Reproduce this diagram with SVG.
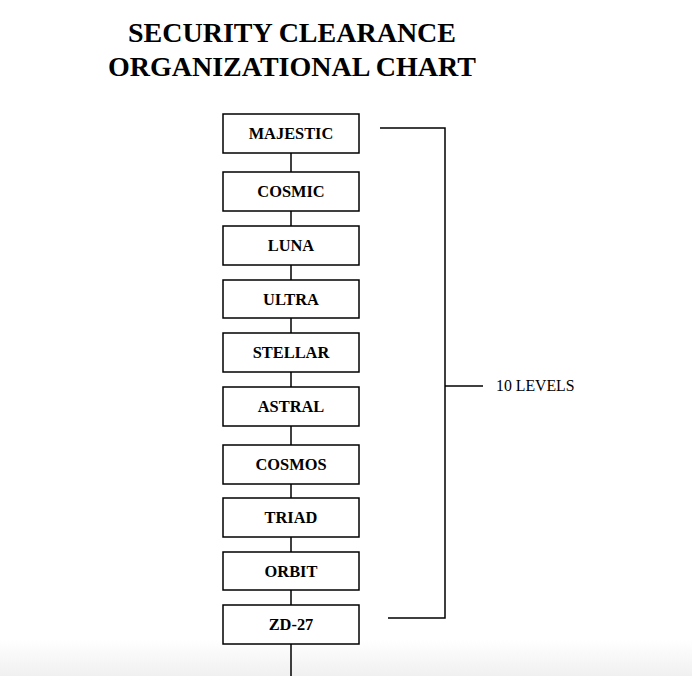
<svg xmlns="http://www.w3.org/2000/svg" width="692" height="676" viewBox="0 0 692 676">
<style>
.title{font-family:"Liberation Serif","Times New Roman",serif;font-weight:bold;font-size:28px;fill:#000;text-anchor:middle}
.box rect{fill:#fff;stroke:#000;stroke-width:1.5}
.box text{font-family:"Liberation Serif","Times New Roman",serif;font-weight:bold;font-size:16.4px;fill:#000;text-anchor:middle}
.lbl{font-family:"Liberation Serif","Times New Roman",serif;font-size:15.8px;fill:#000}
#connectors line,#connectors path{stroke:#000;stroke-width:1.5;fill:none}
</style>
<defs>
<linearGradient id="fade" x1="0" y1="0" x2="0" y2="1">
<stop offset="0" stop-color="#fff"/>
<stop offset="1" stop-color="#f0f0f0"/>
</linearGradient>
</defs>
<rect width="692" height="676" fill="#fff"/>
<rect x="0" y="640" width="692" height="36" fill="url(#fade)"/>
<text class="title" x="292" y="42">SECURITY CLEARANCE</text>
<text class="title" x="292" y="76">ORGANIZATIONAL CHART</text>
<g id="connectors">
<line x1="291" y1="153" x2="291" y2="172"/>
<line x1="291" y1="211" x2="291" y2="226"/>
<line x1="291" y1="265" x2="291" y2="280"/>
<line x1="291" y1="318" x2="291" y2="333"/>
<line x1="291" y1="372" x2="291" y2="387"/>
<line x1="291" y1="426" x2="291" y2="445"/>
<line x1="291" y1="484" x2="291" y2="498"/>
<line x1="291" y1="537" x2="291" y2="552"/>
<line x1="291" y1="590" x2="291" y2="605"/>
<line x1="291" y1="644" x2="291" y2="676"/>
<path d="M380 128 H445 V618 H388"/>
<line x1="445" y1="386" x2="483" y2="386"/>
</g>
<g id="majestic" class="box"><rect x="223" y="114" width="136" height="39"/><text x="291" y="139">MAJESTIC</text></g>
<g id="cosmic" class="box"><rect x="223" y="172" width="136" height="39"/><text x="291" y="197">COSMIC</text></g>
<g id="luna" class="box"><rect x="223" y="226" width="136" height="39"/><text x="291" y="251">LUNA</text></g>
<g id="ultra" class="box"><rect x="223" y="280" width="136" height="38"/><text x="291" y="305">ULTRA</text></g>
<g id="stellar" class="box"><rect x="223" y="333" width="136" height="39"/><text x="291" y="358">STELLAR</text></g>
<g id="astral" class="box"><rect x="223" y="387" width="136" height="39"/><text x="291" y="412">ASTRAL</text></g>
<g id="cosmos" class="box"><rect x="223" y="445" width="136" height="39"/><text x="291" y="470">COSMOS</text></g>
<g id="triad" class="box"><rect x="223" y="498" width="136" height="39"/><text x="291" y="523">TRIAD</text></g>
<g id="orbit" class="box"><rect x="223" y="552" width="136" height="38"/><text x="291" y="577">ORBIT</text></g>
<g id="zd27" class="box"><rect x="223" y="605" width="136" height="39"/><text x="291" y="630">ZD-27</text></g>
<text class="lbl" x="496" y="391">10 LEVELS</text>
</svg>
